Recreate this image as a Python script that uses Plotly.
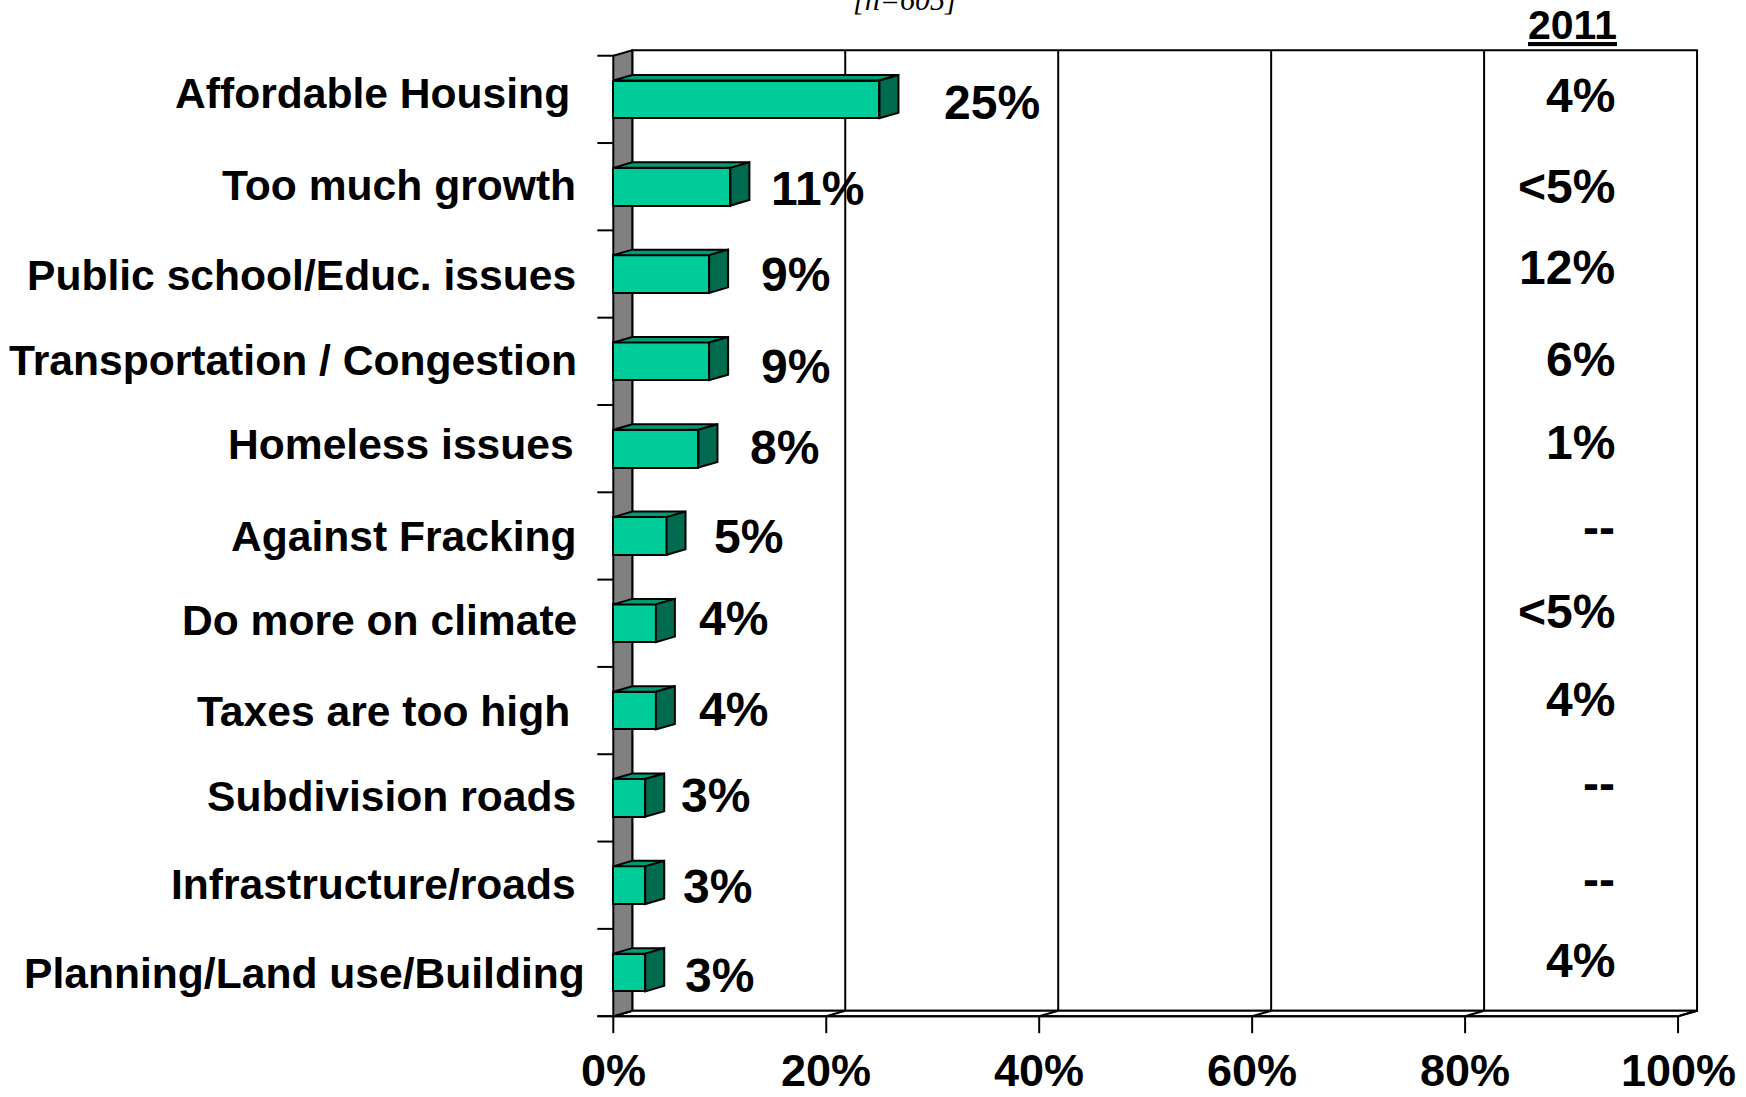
import plotly.graph_objects as go

# ---------------- data ----------------
categories = [
    "Affordable Housing",
    "Too much growth",
    "Public school/Educ. issues",
    "Transportation / Congestion",
    "Homeless issues",
    "Against Fracking",
    "Do more on climate",
    "Taxes are too high",
    "Subdivision roads",
    "Infrastructure/roads",
    "Planning/Land use/Building",
]
values_2016 = [25, 11, 9, 9, 8, 5, 4, 4, 3, 3, 3]
labels_2011 = ["4%", "<5%", "12%", "6%", "1%", "--", "<5%", "4%", "--", "--", "4%"]
x_ticks = [0, 20, 40, 60, 80, 100]
x_ticktext = ["0%", "20%", "40%", "60%", "80%", "100%"]
header_2011 = "2011"
sample_note = "[n=605]"

# ---------------- label placement (layout, not data) ----------------
value_label_x = [35.6, 19.2, 17.1, 17.1, 16.1, 12.7, 11.3, 11.3, 9.6, 9.8, 10.0]
value_label_y = [0.03, 1.02, 2.0, 3.06, 3.99, 5.01, 5.94, 6.99, 7.97, 9.01, 10.03]
cat_label_right_px = [572, 578, 578, 579, 576, 579, 579, 572, 578, 578, 587]
cat_label_y = [-0.07, 0.98, 2.01, 2.98, 3.95, 5.0, 5.96, 7.0, 7.98, 8.99, 10.0]
col2011_x = 94.3
col2011_y = [-0.05, 1.0, 1.92, 2.98, 3.93, 4.90, 5.87, 6.87, 7.84, 8.93, 9.86]

# ---------------- geometry / style ----------------
W, H = 1746, 1097
PX_PER_X = 10.65             # pixels per percent
PX_PER_Y = 87.27             # pixels per category
X0_PX, Y0_PX = 613, 56       # front 0% / top of first category (px)
DX = 19 / PX_PER_X           # 3-D depth in x (data units)
DY = 5.5 / PX_PER_Y          # 3-D depth in y (category units)
BAR_H = 0.432
XR = [-2.0, 103.0]
YR = [10.75, -0.6]

ml = X0_PX + XR[0] * PX_PER_X
mr = W - (X0_PX + XR[1] * PX_PER_X)
mt = Y0_PX + (YR[1] + 0.5) * PX_PER_Y
mb = H - (Y0_PX + (YR[0] + 0.5) * PX_PER_Y)


def paper_y(py):
    return (H - mb - py) / (H - mb - mt)


def paper_x(px):
    return (px - ml) / (W - ml - mr)


FRONT = "#00CC99"
TOP = "#009C74"
SIDE = "#006B4F"
STRIP = "#808080"
LW = 2
FONT = "Liberation Sans, Arial, sans-serif"

n = len(categories)
ypos = list(range(n))
y_top = -0.5
y_bot = n - 0.5

fig = go.Figure()

# ---------- background walls (shapes below traces) ----------
shapes = []
shapes.append(dict(type="rect", xref="x", yref="y", layer="below",
                   x0=DX, x1=100 + DX, y0=y_top - DY, y1=y_bot - DY,
                   fillcolor="white", line=dict(color="black", width=LW)))
for v in x_ticks[1:-1]:
    shapes.append(dict(type="line", xref="x", yref="y", layer="below",
                       x0=v + DX, x1=v + DX, y0=y_top - DY, y1=y_bot - DY,
                       line=dict(color="black", width=LW)))
shapes.append(dict(type="path", xref="x", yref="y", layer="below",
                   path=f"M 0,{y_bot} L {DX},{y_bot-DY} L {100+DX},{y_bot-DY} L 100,{y_bot} Z",
                   fillcolor="white", line=dict(color="black", width=LW)))
for v in x_ticks:
    shapes.append(dict(type="line", xref="x", yref="y", layer="below",
                       x0=v + DX, y0=y_bot - DY, x1=v, y1=y_bot,
                       line=dict(color="black", width=LW)))
    shapes.append(dict(type="line", xref="x", yref="y", layer="below",
                       x0=v, x1=v, y0=y_bot, y1=y_bot + 17 / PX_PER_Y,
                       line=dict(color="black", width=LW)))
shapes.append(dict(type="line", xref="x", yref="y", layer="below",
                   x0=-16 / PX_PER_X, x1=100, y0=y_bot, y1=y_bot,
                   line=dict(color="black", width=LW)))
shapes.append(dict(type="path", xref="x", yref="y", layer="below",
                   path=f"M 0,{y_top} L {DX},{y_top-DY} L {DX},{y_bot-DY} L 0,{y_bot} Z",
                   fillcolor=STRIP, line=dict(color="black", width=LW)))
for k in range(n + 1):
    shapes.append(dict(type="line", xref="x", yref="y", layer="below",
                       x0=-16 / PX_PER_X, x1=0, y0=k - 0.5, y1=k - 0.5,
                       line=dict(color="black", width=LW)))

# ---------- bars: front faces ----------
fig.add_trace(go.Bar(
    x=values_2016, y=ypos, orientation="h", width=BAR_H, base=0,
    marker=dict(color=FRONT, line=dict(color="black", width=LW)),
    hoverinfo="skip", showlegend=False,
))

# ---------- bars: top and side faces ----------
tx, ty, sx, sy = [], [], [], []
for v, yc in zip(values_2016, ypos):
    a = yc - BAR_H / 2
    b = yc + BAR_H / 2
    tx += [0, v, v + DX, DX, 0, None]
    ty += [a, a, a - DY, a - DY, a, None]
    sx += [v, v + DX, v + DX, v, v, None]
    sy += [a, a - DY, b - DY, b, a, None]
fig.add_trace(go.Scatter(x=tx, y=ty, mode="lines", fill="toself", fillcolor=TOP,
                         line=dict(color="black", width=LW), hoverinfo="skip",
                         showlegend=False))
fig.add_trace(go.Scatter(x=sx, y=sy, mode="lines", fill="toself", fillcolor=SIDE,
                         line=dict(color="black", width=LW), hoverinfo="skip",
                         showlegend=False))

# ---------- annotations ----------
ann = []
for c, rx, ly in zip(categories, cat_label_right_px, cat_label_y):
    ann.append(dict(x=paper_x(rx), y=ly, xref="paper", yref="y", text=f"<b>{c}</b>",
                    showarrow=False, xanchor="right", yanchor="middle",
                    font=dict(family=FONT, size=42.6, color="black")))
for v, lx, ly in zip(values_2016, value_label_x, value_label_y):
    ann.append(dict(x=lx, y=ly, xref="x", yref="y", text=f"<b>{v}%</b>",
                    showarrow=False, xanchor="center", yanchor="middle",
                    font=dict(family=FONT, size=48, color="black")))
for t, ly in zip(labels_2011, col2011_y):
    ann.append(dict(x=col2011_x, y=ly, xref="x", yref="y", text=f"<b>{t}</b>",
                    showarrow=False, xanchor="right", yanchor="middle",
                    font=dict(family=FONT, size=48, color="black")))
for v, t in zip(x_ticks, x_ticktext):
    ann.append(dict(x=v, y=paper_y(1070), xref="x", yref="paper", text=f"<b>{t}</b>",
                    showarrow=False, xanchor="center", yanchor="middle",
                    font=dict(family=FONT, size=45, color="black")))
ann.append(dict(x=90.05, y=paper_y(25), xref="x", yref="paper",
                text=f"<b><u>{header_2011}</u></b>",
                showarrow=False, xanchor="center", yanchor="middle",
                font=dict(family=FONT, size=41, color="black")))
ann.append(dict(x=27.4, y=paper_y(0), xref="x", yref="paper", text=f"<i>{sample_note}</i>",
                showarrow=False, xanchor="center", yanchor="middle",
                font=dict(family="Liberation Serif, Times New Roman, serif", size=30,
                          color="black")))

fig.update_layout(
    width=W, height=H,
    margin=dict(l=ml, r=mr, t=mt, b=mb, pad=0, autoexpand=False),
    paper_bgcolor="white", plot_bgcolor="white",
    shapes=shapes, annotations=ann, bargap=0,
    xaxis=dict(range=XR, showgrid=False, zeroline=False, showline=False,
               showticklabels=False, ticks="", fixedrange=True),
    yaxis=dict(range=YR, showgrid=False, zeroline=False, showline=False,
               showticklabels=False, ticks="", fixedrange=True),
)

# remove the default page margin so the figure sits at the window origin
fig.write_html("out.html",
               config={"displayModeBar": False},
               post_script="document.body.style.margin='0';document.body.style.overflow='hidden';")
